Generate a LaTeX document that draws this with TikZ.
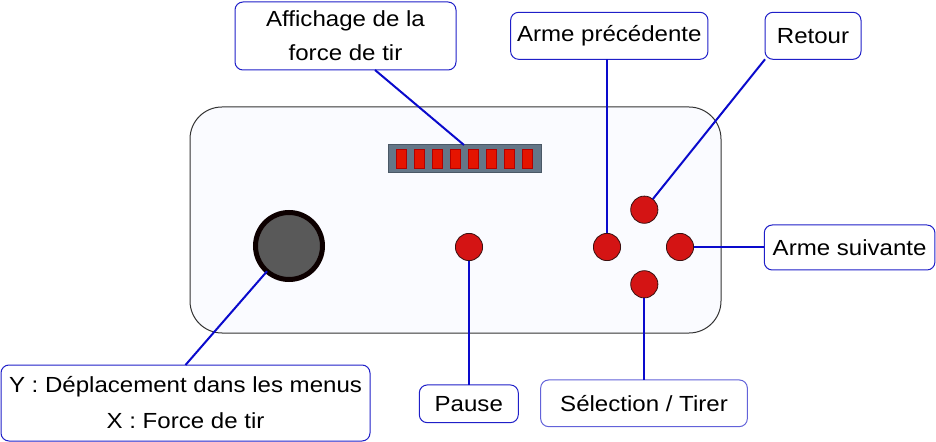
\documentclass[tikz,border=0pt]{standalone}
\usepackage{fontspec}
\setmainfont{Liberation Sans}[FakeStretch=1.1]
\begin{document}
\begin{tikzpicture}[x=0.75pt,y=-0.75pt,
  lbl/.style={draw=lblblue,line width=0.75pt,rounded corners=6pt,fill=white,
    inner sep=0pt,outer sep=0pt,align=center,font=\fontsize{16.4pt}{25.5pt}\selectfont},
  conn/.style={draw=connblue,line width=1.5pt},
  btn/.style={circle,fill=btnred,draw=btnedge,line width=0.6pt,minimum size=20.4pt,inner sep=0pt,outer sep=0pt},
  led/.style={fill=ledred,draw=lededge,line width=0.6pt}]
\definecolor{lblblue}{HTML}{1F1FC8}
\definecolor{connblue}{HTML}{0A0ACC}
\definecolor{btnred}{HTML}{D41414}
\definecolor{btnedge}{HTML}{3A1010}
\definecolor{ledred}{HTML}{E51400}
\definecolor{lededge}{HTML}{B20000}
\definecolor{barfill}{HTML}{647687}
\definecolor{baredge}{HTML}{4A5866}
\definecolor{bodyfill}{HTML}{FAFBFF}
\useasboundingbox (0,0) rectangle (936,442);
% body
\node[draw=black!80,line width=0.75pt,rounded corners=24pt,fill=bodyfill,minimum width=398.25pt,minimum height=169.5pt,inner sep=0pt] (body) at (455.5,220) {};
% LED bar
\node[fill=barfill,draw=baredge,line width=0.75pt,minimum width=114.75pt,minimum height=21pt,inner sep=0pt,outer sep=0pt] (bar) at (464.5,158.5) {};
\foreach \i in {0,...,7}{
  \draw[led] (396.7+18*\i,149) rectangle (406.7+18*\i,168);
}
% joystick
\node[circle,fill=black!65,draw=black!95!red,line width=3.75pt,minimum size=50.25pt,inner sep=0pt,outer sep=0pt] (joy) at (289,246) {};
% buttons
\node[btn] (pausebtn) at (469,247) {};
\node[btn] (bleft) at (607,247) {};
\node[btn] (btop) at (644.3,209.7) {};
\node[btn] (bright) at (680,247) {};
\node[btn] (bbot) at (644.3,284.3) {};
% labels
\node[lbl,minimum width=165.75pt,minimum height=51pt] (aff) at (345.5,36) {Affichage de la\\force de tir};
\node[lbl,minimum width=148pt,minimum height=35.25pt] (armep) at (609.3,35.8) {Arme précédente};
\node[lbl,minimum width=72pt,minimum height=35.25pt] (retour) at (813,35.8) {Retour};
\node[lbl,minimum width=128pt,minimum height=33.75pt] (armes) at (849.6,247.5) {Arme suivante};
\node[lbl,minimum width=276.75pt,minimum height=57pt,font=\fontsize{16.4pt}{27pt}\selectfont] (ybox) at (185.5,403) {Y : Déplacement dans les menus\\X : Force de tir};
\node[lbl,minimum width=74.25pt,minimum height=28.3pt] (pause) at (468.8,403.8) {Pause};
\node[lbl,draw=lblblue!70,minimum width=155pt,minimum height=35pt] (sel) at (644,403.3) {Sélection / Tirer};
% connectors
\coordinate (affend) at (375,70);
\coordinate (barend) at (464,145);
\draw[conn] (affend) -- (barend);
\draw[conn] (ybox.north) -- (joy);
\draw[conn] (pausebtn) -- (pausebtn |- pause.north);
\draw[conn] (bleft) -- (bleft |- armep.south);
\draw[conn] (retour.south west) -- (btop);
\draw[conn] (bright) -- (bright -| armes.west);
\draw[conn] (bbot) -- (bbot |- sel.north);
\end{tikzpicture}
\end{document}
